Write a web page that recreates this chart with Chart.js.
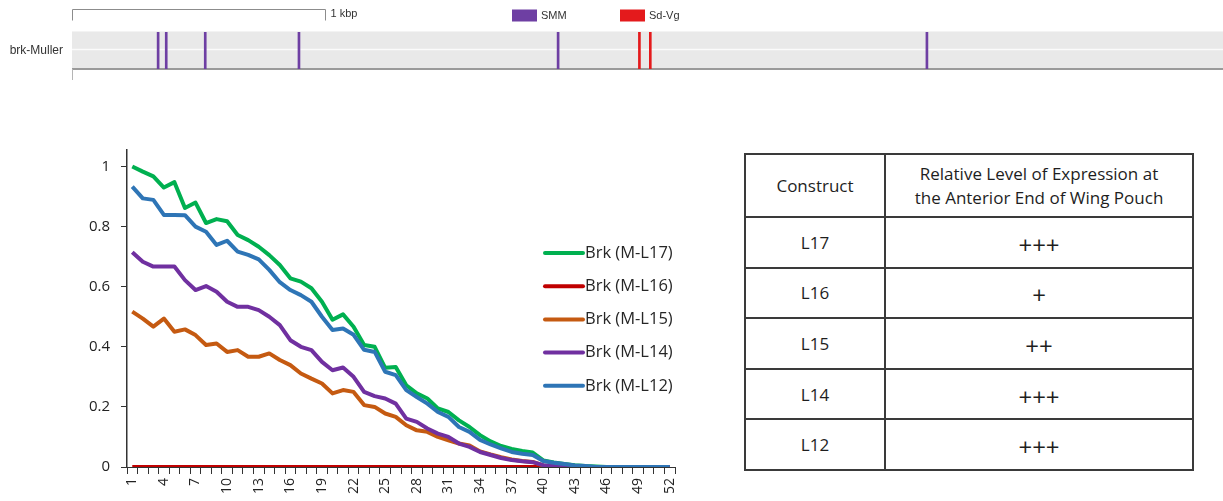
<!DOCTYPE html>
<html>
<head>
<meta charset="utf-8">
<script src="https://cdn.jsdelivr.net/npm/chart.js@4.4.1/dist/chart.umd.min.js"></script>
<style>
    html, body { margin: 0; padding: 0; background: #fff; }
    body { width: 1223px; height: 501px; position: relative; overflow: hidden; font-family: "Open Sans", sans-serif; }
    #tablaNiveles { position: absolute; left: 744px; top: 153px; width: 450px; border-collapse: collapse; color: #1e1e1e; }
    #tablaNiveles td { border: 2px solid #3a3a3a; text-align: center; padding: 0; font-size: 17px; }
    #tablaNiveles td.col1 { width: 138px; }
    #tablaNiveles tr.cab td { height: 61px; line-height: 23.4px; }
    #tablaNiveles tr.fila td { height: 48.6px; }
    #tablaNiveles td.nivel span { display: inline-block; font-size: 24px; line-height: 17px; vertical-align: middle; }
</style>
</head>
<body>
<canvas id="chartTrack" width="1223" height="90" style="position:absolute;left:0;top:0"></canvas>
<canvas id="chartPerfil" width="720" height="371" style="position:absolute;left:0;top:130px"></canvas>
<table id="tablaNiveles">
    <tr class="cab">
        <td class="col1">Construct</td>
        <td>Relative Level of Expression at<br>the Anterior End of Wing Pouch</td>
    </tr>
</table>

<script>
// =========================================================
// DATOS
// =========================================================
// Track del enhancer brk-Muller (posiciones en pb)
const LARGO_TRACK  = 4532;
const SITIOS_SMM   = [340, 372, 526, 896, 1919, 3375];
const SITIOS_SDVG  = [2240, 2283];

// Perfil de expresion a lo largo del eje A/P (posiciones 1..52)
const POSICIONES = ['1','2','3','4','5','6','7','8','9','10','11','12','13','14','15','16','17','18','19','20',
    '21','22','23','24','25','26','27','28','29','30','31','32','33','34','35','36','37','38','39','40',
    '41','42','43','44','45','46','47','48','49','50','51','52'];
const TICKS_Y = [0, 0.2, 0.4, 0.6, 0.8, 1];

const BRK_L17 = [1.0, 0.983, 0.967, 0.93, 0.948, 0.862, 0.88, 0.812, 0.825, 0.818, 0.772, 0.755, 0.733, 0.705, 0.672,
    0.628, 0.617, 0.595, 0.55, 0.49, 0.508, 0.467, 0.406, 0.4, 0.33, 0.333, 0.272, 0.245, 0.228, 0.195, 0.183,
    0.155, 0.133, 0.106, 0.085, 0.07, 0.06, 0.053, 0.048, 0.022, 0.015, 0.01, 0.006, 0.003, 0.002, 0, 0, 0, 0, 0, 0, 0];
const BRK_L16 = [0, 0, 0, 0, 0, 0, 0, 0, 0, 0, 0, 0, 0, 0, 0, 0, 0, 0, 0, 0, 0, 0, 0, 0, 0, 0,
    0, 0, 0, 0, 0, 0, 0, 0, 0, 0, 0, 0, 0, 0, 0, 0, 0, 0, 0, 0, 0, 0, 0, 0, 0, 0];
const BRK_L15 = [0.517, 0.494, 0.467, 0.494, 0.45, 0.458, 0.439, 0.406, 0.411, 0.383, 0.389, 0.367, 0.367, 0.378, 0.356,
    0.339, 0.311, 0.294, 0.278, 0.245, 0.256, 0.25, 0.206, 0.2, 0.178, 0.167, 0.139, 0.122, 0.117, 0.1, 0.089,
    0.078, 0.072, 0.052, 0.042, 0.033, 0.025, 0.02, 0.017, 0.005, 0, 0, 0, 0, 0, 0, 0, 0, 0, 0, 0, 0];
const BRK_L14 = [0.715, 0.683, 0.667, 0.667, 0.667, 0.622, 0.589, 0.602, 0.583, 0.55, 0.533, 0.533, 0.522, 0.5, 0.472,
    0.422, 0.4, 0.389, 0.35, 0.322, 0.331, 0.3, 0.25, 0.236, 0.228, 0.211, 0.161, 0.15, 0.128, 0.111, 0.1,
    0.078, 0.067, 0.05, 0.04, 0.03, 0.023, 0.019, 0.016, 0.006, 0.003, 0, 0, 0, 0, 0, 0, 0, 0, 0, 0, 0];
const BRK_L12 = [0.933, 0.894, 0.889, 0.839, 0.839, 0.838, 0.8, 0.783, 0.739, 0.753, 0.717, 0.706, 0.691, 0.656, 0.615,
    0.589, 0.572, 0.55, 0.5, 0.456, 0.461, 0.44, 0.39, 0.383, 0.317, 0.306, 0.256, 0.233, 0.211, 0.183, 0.167,
    0.133, 0.117, 0.09, 0.075, 0.062, 0.05, 0.044, 0.04, 0.02, 0.014, 0.01, 0.005, 0.003, 0, 0, 0, 0, 0, 0, 0, 0];

// Tabla resumen
const CONSTRUCTOS = ['L17', 'L16', 'L15', 'L14', 'L12'];
const NIVELES     = ['+++', '+', '++', '+++', '+++'];

// =========================================================
// 1. TRACK DE SITIOS
// =========================================================
const fondoTrack = {
    id: 'fondoTrack',
    beforeDatasetsDraw(chart) {
        const { ctx, chartArea: a } = chart;
        ctx.save();
        ctx.fillStyle = '#e9e9e9';
        ctx.fillRect(a.left, a.top - 1, 1223 - a.left, a.bottom - a.top + 1);
        ctx.fillStyle = '#f3f3f3';
        ctx.fillRect(a.left, a.top - 1, 1223 - a.left, 1);
        ctx.strokeStyle = '#fbfbfb';
        ctx.lineWidth = 1.5;
        ctx.beginPath(); ctx.moveTo(a.left, 49.5); ctx.lineTo(1223, 49.5); ctx.stroke();
        ctx.strokeStyle = '#9a9a9a';
        ctx.lineWidth = 2;
        ctx.beginPath(); ctx.moveTo(a.left, a.bottom); ctx.lineTo(1223, a.bottom); ctx.stroke();
        ctx.strokeStyle = '#b5b5b5';
        ctx.lineWidth = 1;
        ctx.beginPath(); ctx.moveTo(a.left + 0.5, a.bottom); ctx.lineTo(a.left + 0.5, a.bottom + 11); ctx.stroke();
        ctx.restore();
    },
    afterDraw(chart) {
        const { ctx } = chart;
        const x = chart.scales.x;
        const x0 = Math.round(x.getPixelForValue(0)) + 0.5;
        const x1 = Math.round(x.getPixelForValue(1000)) + 0.5;
        ctx.save();
        // barra de escala de 1 kbp
        ctx.strokeStyle = '#8c8c8c';
        ctx.lineWidth = 1;
        ctx.beginPath();
        ctx.moveTo(x0, 20.5); ctx.lineTo(x0, 9.5); ctx.lineTo(x1, 9.5); ctx.lineTo(x1, 20.5);
        ctx.stroke();
        ctx.fillStyle = '#333';
        ctx.font = '11px "Liberation Sans", Arial, sans-serif';
        ctx.textBaseline = 'middle';
        ctx.fillText('1 kbp', x1 + 5, 14);
        // leyenda
        chart.data.datasets.forEach((ds, i) => {
            const bx = [512, 620][i];
            ctx.fillStyle = ds.backgroundColor;
            ctx.fillRect(bx, 9.5, 25, 12);
            ctx.fillStyle = '#333';
            ctx.fillText(ds.label, bx + 29, 15.5);
        });
        // nombre del track
        ctx.font = '12px "Liberation Sans", Arial, sans-serif';
        ctx.textAlign = 'right';
        ctx.fillText('brk-Muller', 63, 51);
        ctx.restore();
    }
};

new Chart(document.getElementById('chartTrack'), {
    type: 'bar',
    data: {
        datasets: [
            { label: 'SMM',   data: SITIOS_SMM.map(p => ({ x: p, y: [0, 1] })),  backgroundColor: '#6e3fa3', barThickness: 2 },
            { label: 'Sd-Vg', data: SITIOS_SDVG.map(p => ({ x: p, y: [0, 1] })), backgroundColor: '#e41a1c', barThickness: 2 }
        ]
    },
    options: {
        responsive: false, animation: false, grouped: false,
        layout: { padding: { left: 72, right: 3, top: 32, bottom: 21 } },
        scales: {
            x: { type: 'linear', offset: false, min: 0, max: LARGO_TRACK, display: false },
            y: { min: 0, max: 1, display: false }
        },
        plugins: { legend: { display: false }, tooltip: { enabled: false } }
    },
    plugins: [fondoTrack]
});

// =========================================================
// 2. PERFIL DE EXPRESION
// =========================================================
const leyendaLateral = {
    id: 'leyendaLateral',
    afterDraw(chart, args, opts) {
        const ctx = chart.ctx;
        ctx.save();
        ctx.font = opts.font;
        ctx.textBaseline = 'middle';
        ctx.lineCap = 'round';
        ctx.lineWidth = 4;
        chart.data.datasets.forEach((ds, i) => {
            const y = opts.y0 + i * opts.paso;
            ctx.strokeStyle = ds.borderColor;
            ctx.beginPath(); ctx.moveTo(opts.x0, y); ctx.lineTo(opts.x0 + opts.largo, y); ctx.stroke();
            ctx.fillStyle = '#262626';
            ctx.fillText(ds.label, opts.x0 + opts.largo + 2, y);
        });
        ctx.restore();
    }
};

const serie = (label, data, color, orden) => ({
    label, data,
    borderColor: color, backgroundColor: color,
    borderWidth: 4, pointRadius: 0, tension: 0,
    borderJoinStyle: 'round', order: orden
});

new Chart(document.getElementById('chartPerfil'), {
    type: 'line',
    data: {
        labels: POSICIONES,
        datasets: [
            serie('Brk (M-L17)', BRK_L17, '#00b050', 4),
            serie('Brk (M-L16)', BRK_L16, '#c00000', 3),
            serie('Brk (M-L15)', BRK_L15, '#c55a11', 2),
            serie('Brk (M-L14)', BRK_L14, '#7030a0', 1),
            serie('Brk (M-L12)', BRK_L12, '#2e75b6', 0)
        ]
    },
    options: {
        responsive: false, animation: false,
        layout: { padding: { left: 0, right: 45, top: 20, bottom: 0 } },
        scales: {
            x: {
                offset: true,
                afterFit: s => { s.height = 34; },
                border: { color: '#333', width: 1 },
                grid: { offset: true, drawOnChartArea: false, tickLength: 7, color: '#333' },
                ticks: {
                    autoSkip: false, minRotation: 90, maxRotation: 90, padding: 4,
                    color: '#222', font: { family: '"Open Sans"', size: 14 },
                    callback: (v, i) => (i % 3 === 0 ? POSICIONES[i] : '')
                }
            },
            y: {
                min: 0, max: 1.055,
                afterFit: s => { s.width = 127; },
                afterBuildTicks: s => { s.ticks = TICKS_Y.map(v => ({ value: v })); },
                border: { color: '#333', width: 1.5 },
                grid: { drawOnChartArea: false, tickLength: 6, color: '#333' },
                ticks: { padding: 11, color: '#222', font: { family: '"Open Sans"', size: 15 }, callback: v => String(v) }
            }
        },
        plugins: {
            legend: { display: false },
            tooltip: { enabled: false },
            leyendaLateral: { x0: 545, largo: 38, y0: 123, paso: 33.2, font: '16.5px "Open Sans"' }
        }
    },
    plugins: [leyendaLateral]
});

// =========================================================
// 3. TABLA
// =========================================================
const tabla = document.getElementById('tablaNiveles');
CONSTRUCTOS.forEach((c, i) => {
    const tr = document.createElement('tr');
    tr.className = 'fila';
    tr.innerHTML = `<td class="col1">${c}</td><td class="nivel"><span>${NIVELES[i]}</span></td>`;
    tabla.appendChild(tr);
});
</script>
</body>
</html>
